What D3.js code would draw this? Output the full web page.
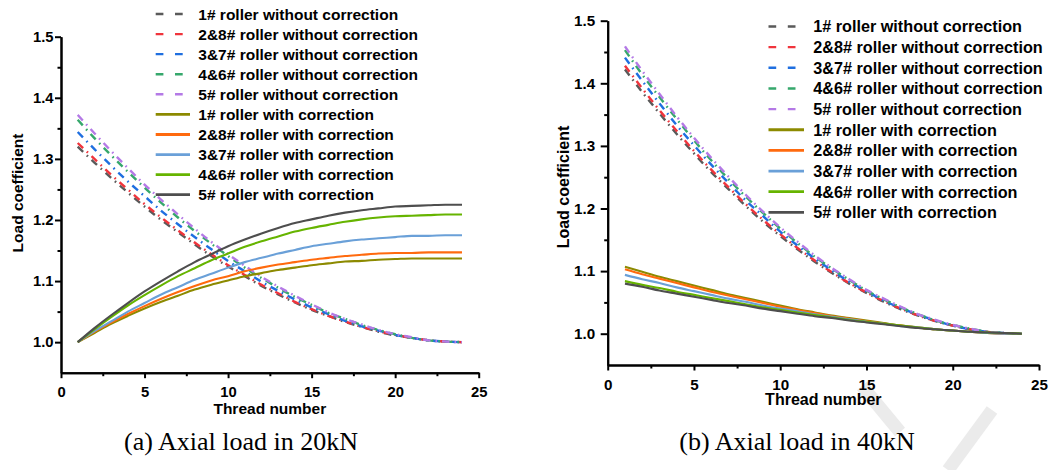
<!DOCTYPE html>
<html>
<head>
<meta charset="utf-8">
<script src="https://cdn.jsdelivr.net/npm/d3@7"></script>
<style>
  html, body { margin: 0; padding: 0; background: #fff; }
  svg { display: block; }
</style>
</head>
<body>
<svg id="fig" width="1051" height="470"></svg>
<script>
// ---- data -------------------------------------------------------------
const threads = [1,2,3,4,5,6,7,8,9,10,11,12,13,14,15,16,17,18,19,20,21,22,23,24];

const seriesNames = [
  "1# roller without correction",
  "2&8# roller without correction",
  "3&7# roller without correction",
  "4&6# roller without correction",
  "5# roller without correction",
  "1# roller with correction",
  "2&8# roller with correction",
  "3&7# roller with correction",
  "4&6# roller with correction",
  "5# roller with correction"
];

const xTicks = [0, 5, 10, 15, 20, 25];
const xMinorTicks = [2.5, 7.5, 12.5, 17.5, 22.5];
const yTicks = [1.0, 1.1, 1.2, 1.3, 1.4, 1.5];
const yMinorTicks = [1.05, 1.15, 1.25, 1.35, 1.45];

const captions = ["(a) Axial load in 20kN", "(b) Axial load in 40kN"];

// Axial load 20kN
const a20_r1_without  = [1.320,1.294,1.269,1.245,1.222,1.200,1.180,1.160,1.141,1.124,1.108,1.092,1.078,1.065,1.053,1.043,1.033,1.025,1.017,1.011,1.007,1.003,1.001,1.000];
const a20_r28_without = [1.326,1.300,1.274,1.250,1.226,1.204,1.183,1.163,1.144,1.126,1.110,1.094,1.080,1.066,1.054,1.043,1.034,1.025,1.018,1.012,1.007,1.003,1.001,1.000];
const a20_r37_without = [1.344,1.316,1.289,1.263,1.239,1.215,1.193,1.172,1.152,1.133,1.116,1.099,1.084,1.070,1.057,1.046,1.035,1.026,1.019,1.012,1.007,1.003,1.001,1.000];
const a20_r46_without = [1.364,1.334,1.306,1.279,1.253,1.228,1.204,1.182,1.161,1.141,1.122,1.105,1.089,1.074,1.061,1.048,1.038,1.028,1.020,1.013,1.007,1.003,1.001,1.000];
const a20_r5_without  = [1.372,1.342,1.313,1.285,1.258,1.233,1.209,1.186,1.164,1.144,1.125,1.107,1.091,1.076,1.062,1.049,1.038,1.029,1.020,1.013,1.008,1.003,1.001,1.000];
const a20_r1_with     = [1.000,1.015,1.030,1.043,1.055,1.066,1.076,1.086,1.094,1.101,1.108,1.113,1.118,1.122,1.126,1.129,1.132,1.133,1.135,1.136,1.137,1.137,1.137,1.137];
const a20_r28_with    = [1.000,1.017,1.032,1.046,1.059,1.071,1.082,1.092,1.101,1.108,1.116,1.122,1.127,1.131,1.135,1.138,1.141,1.143,1.145,1.146,1.146,1.147,1.147,1.147];
const a20_r37_with    = [1.000,1.018,1.034,1.050,1.064,1.078,1.090,1.102,1.112,1.122,1.131,1.138,1.145,1.151,1.157,1.161,1.165,1.168,1.170,1.172,1.174,1.174,1.175,1.175];
const a20_r46_with    = [1.000,1.021,1.041,1.060,1.077,1.093,1.108,1.121,1.134,1.145,1.156,1.165,1.173,1.181,1.187,1.192,1.197,1.201,1.204,1.206,1.207,1.208,1.209,1.209];
const a20_r5_with     = [1.000,1.023,1.044,1.064,1.083,1.100,1.116,1.131,1.144,1.157,1.168,1.178,1.187,1.195,1.201,1.207,1.212,1.216,1.219,1.222,1.223,1.224,1.225,1.225];

// Axial load 40kN
const a40_r1_without  = [1.422,1.386,1.352,1.319,1.288,1.258,1.231,1.204,1.179,1.156,1.135,1.115,1.097,1.080,1.065,1.051,1.039,1.029,1.020,1.013,1.007,1.003,1.001,1.000];
const a40_r28_without = [1.428,1.392,1.357,1.324,1.292,1.262,1.234,1.207,1.182,1.159,1.137,1.117,1.098,1.081,1.066,1.052,1.040,1.029,1.020,1.013,1.007,1.003,1.001,1.000];
const a40_r37_without = [1.441,1.404,1.368,1.333,1.301,1.270,1.241,1.213,1.188,1.163,1.141,1.120,1.101,1.083,1.068,1.053,1.041,1.030,1.021,1.013,1.007,1.003,1.001,1.000];
const a40_r46_without = [1.453,1.414,1.378,1.343,1.309,1.277,1.247,1.219,1.193,1.168,1.145,1.123,1.104,1.086,1.069,1.055,1.042,1.031,1.021,1.014,1.008,1.003,1.001,1.000];
const a40_r5_without  = [1.459,1.420,1.383,1.347,1.313,1.281,1.251,1.222,1.195,1.170,1.147,1.125,1.105,1.087,1.070,1.056,1.043,1.031,1.022,1.014,1.008,1.003,1.001,1.000];
const a40_r1_with     = [1.107,1.099,1.091,1.084,1.077,1.070,1.063,1.057,1.051,1.045,1.039,1.034,1.029,1.025,1.021,1.017,1.013,1.010,1.007,1.005,1.003,1.001,1.000,1.000];
const a40_r28_with    = [1.103,1.095,1.088,1.081,1.074,1.067,1.061,1.055,1.049,1.043,1.038,1.033,1.028,1.024,1.020,1.016,1.013,1.010,1.007,1.005,1.003,1.001,1.000,1.000];
const a40_r37_with    = [1.094,1.087,1.081,1.074,1.068,1.062,1.056,1.051,1.045,1.040,1.036,1.031,1.027,1.023,1.019,1.016,1.012,1.010,1.007,1.005,1.003,1.001,1.000,1.000];
const a40_r46_with    = [1.084,1.078,1.073,1.067,1.062,1.057,1.052,1.047,1.042,1.038,1.034,1.030,1.026,1.022,1.019,1.016,1.013,1.010,1.007,1.005,1.003,1.002,1.001,1.000];
const a40_r5_with     = [1.080,1.075,1.069,1.064,1.059,1.054,1.049,1.045,1.040,1.036,1.032,1.028,1.025,1.021,1.018,1.015,1.012,1.009,1.007,1.005,1.003,1.002,1.001,1.000];

const load20 = [a20_r1_without, a20_r28_without, a20_r37_without, a20_r46_without, a20_r5_without,
                a20_r1_with, a20_r28_with, a20_r37_with, a20_r46_with, a20_r5_with];
const load40 = [a40_r1_without, a40_r28_without, a40_r37_without, a40_r46_without, a40_r5_without,
                a40_r1_with, a40_r28_with, a40_r37_with, a40_r46_with, a40_r5_with];

// ---- styles ---------------------------------------------------------------
const seriesColors = ["#5a5a5a", "#f0343c", "#1f6fe0", "#36a86c", "#b479e6",
                      "#8c8a00", "#ff6a0e", "#6aa0d8", "#66b400", "#4e4e4e"];
const seriesDashed = [true, true, true, true, true, false, false, false, false, false];
const DASH = "7.5,5,1.6,5";        // dash-dot used on the curves
const LEGEND_DASH = "7.7,11.6";    // legend swatch shows the dashes only
const SANS = "'Liberation Sans', Arial, Helvetica, sans-serif";
const SERIF = "'Liberation Serif', 'Times New Roman', serif";

const svg = d3.select("#fig");

// faint watermark strokes in the lower right corner
svg.append("g")
  .attr("stroke", "#ebebeb").attr("stroke-width", 13).attr("stroke-linecap", "butt")
  .selectAll("line")
  .data([[862, 386, 900, 432], [948, 470, 992, 410]])
  .join("line")
  .attr("x1", d => d[0]).attr("y1", d => d[1])
  .attr("x2", d => d[2]).attr("y2", d => d[3]);

function drawPanel(series, L) {
  const g = svg.append("g");
  const x = d3.scaleLinear().domain([0, 25]).range([L.x0, L.x1]);
  const y = d3.scaleLinear().domain([0.95, 1.5]).range([L.yBot, L.yTop]);

  // curves
  const line = d3.line()
    .x((d, i) => x(threads[i]))
    .y(d => y(d))
    .curve(d3.curveMonotoneX);

  series.forEach((vals, k) => {
    g.append("path")
      .datum(vals)
      .attr("d", line)
      .attr("fill", "none")
      .attr("stroke", seriesColors[k])
      .attr("stroke-width", seriesDashed[k] ? 2.4 : 2.1)
      .attr("stroke-dasharray", seriesDashed[k] ? DASH : null);
  });

  // axes
  const styleAxis = sel => {
    sel.select(".domain").attr("stroke", "#000").attr("stroke-width", 2);
    sel.selectAll(".tick line").attr("stroke", "#000").attr("stroke-width", 2);
    sel.selectAll("text")
      .attr("fill", "#000")
      .style("font-family", SANS)
      .style("font-weight", "bold")
      .style("font-size", L.tickFont + "px");
  };

  g.append("g")
    .attr("transform", `translate(0,${L.yBot})`)
    .call(d3.axisBottom(x).tickValues(xMinorTicks).tickSize(3.5).tickSizeOuter(0).tickFormat(""))
    .call(styleAxis);
  g.append("g")
    .attr("transform", `translate(0,${L.yBot})`)
    .call(d3.axisBottom(x).tickValues(xTicks).tickSize(5.5).tickSizeOuter(0)
      .tickPadding(L.xPad).tickFormat(d3.format("d")))
    .call(styleAxis);

  g.append("g")
    .attr("transform", `translate(${L.x0},0)`)
    .call(d3.axisLeft(y).tickValues(yMinorTicks).tickSize(3.5).tickSizeOuter(0).tickFormat(""))
    .call(styleAxis);
  g.append("g")
    .attr("transform", `translate(${L.x0},0)`)
    .call(d3.axisLeft(y).tickValues(yTicks).tickSize(L.yTick).tickSizeOuter(0)
      .tickPadding(L.yPad).tickFormat(d3.format(".1f")))
    .call(styleAxis);

  // axis titles
  g.append("text")
    .attr("x", (L.x0 + L.x1) / 2)
    .attr("y", L.xTitleY)
    .attr("text-anchor", "middle")
    .style("font-family", SANS).style("font-weight", "bold")
    .style("font-size", L.titleFont + "px")
    .text("Thread number");

  g.append("text")
    .attr("transform", `translate(${L.yTitleX},${L.yTitleCY}) rotate(-90)`)
    .attr("text-anchor", "middle")
    .style("font-family", SANS).style("font-weight", "bold")
    .style("font-size", L.titleFont + "px")
    .text("Load coefficient");

  // legend
  const lg = g.append("g");
  seriesNames.forEach((name, k) => {
    const ly = L.legY0 + k * L.legStep;
    lg.append("line")
      .attr("x1", L.legX0).attr("x2", L.legX1)
      .attr("y1", ly).attr("y2", ly)
      .attr("stroke", seriesColors[k])
      .attr("stroke-width", seriesDashed[k] ? 2.4 : 2.8)
      .attr("stroke-dasharray", seriesDashed[k] ? LEGEND_DASH : null);
    lg.append("text")
      .attr("x", L.legTextX).attr("y", ly)
      .attr("dy", "0.36em")
      .style("font-family", SANS).style("font-weight", "bold")
      .style("font-size", L.legFont + "px")
      .text(name);
  });

  // caption
  svg.append("text")
    .attr("x", L.capX).attr("y", L.capY)
    .attr("text-anchor", "middle")
    .style("font-family", SERIF)
    .style("font-size", "26px")
    .attr("fill", "#000")
    .text(L.caption);
}

drawPanel(load20, {
  x0: 61, x1: 478.7, yTop: 36.7, yBot: 372.7,
  tickFont: 14.8, titleFont: 15.5, xPad: 8.5, yTick: 6, yPad: 1.5,
  xTitleY: 413.5, yTitleX: 22.7, yTitleCY: 193,
  legX0: 155.7, legX1: 190, legTextX: 198.3, legY0: 14, legStep: 20.08, legFont: 15.5,
  capX: 241, capY: 450, caption: captions[0]
});

drawPanel(load40, {
  x0: 607.7, x1: 1039, yTop: 20.7, yBot: 365,
  tickFont: 15.2, titleFont: 16, xPad: 8.8, yTick: 7, yPad: 5.5,
  xTitleY: 405, yTitleX: 569.3, yTitleCY: 187,
  legX0: 768.5, legX1: 804, legTextX: 813.3, legY0: 26.5, legStep: 20.65, legFont: 16.2,
  capX: 797, capY: 450, caption: captions[1]
});
</script>
</body>
</html>
